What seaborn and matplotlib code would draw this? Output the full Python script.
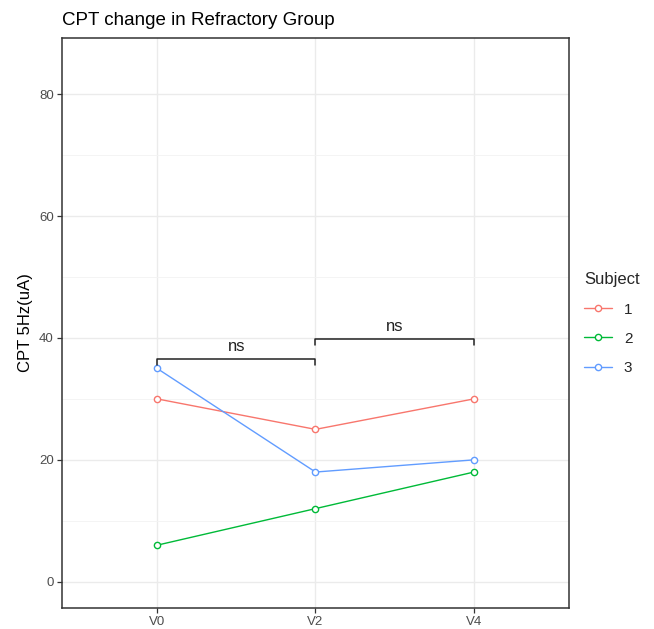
import matplotlib
matplotlib.use("Agg")
import matplotlib.pyplot as plt
from matplotlib.lines import Line2D
import seaborn as sns
import pandas as pd

visits = ["V0", "V2", "V4"]
subjects = ["1", "2", "3"]
subj1 = [30, 25, 30]
subj2 = [6, 12, 18]
subj3 = [35, 18, 20]
colors = ["#F8766D", "#00BA38", "#619CFF"]
brackets = [("V0", "V2", 36.5, "ns"), ("V2", "V4", 39.8, "ns")]

rows = []
for s, vals in zip(subjects, [subj1, subj2, subj3]):
    for v, y in zip(visits, vals):
        rows.append({"visit": v, "cpt": y, "Subject": s})
df = pd.DataFrame(rows)

sns.set_theme(style="white")
plt.rcParams["font.family"] = ["Liberation Sans", "DejaVu Sans"]

fig = plt.figure(figsize=(6.54, 6.29), dpi=100)
ax = fig.add_axes([0.0948, 0.0334, 0.7752, 0.9062])

palette = dict(zip(subjects, colors))
sns.lineplot(data=df, x="visit", y="cpt", hue="Subject", palette=palette,
             marker="o", markersize=4.5, markerfacecolor="white",
             markeredgewidth=1.0, linewidth=1.0, ax=ax, legend=False, zorder=3)
for line in ax.lines:
    line.set_markeredgecolor(line.get_color())

ax.set_xlim(-0.6, 2.6)
ax.set_ylim(-4.3, 89.2)
ax.set_yticks([0, 20, 40, 60, 80])
ax.set_yticks([10, 30, 50, 70], minor=True)
ax.grid(True, which="major", color="#EBEBEB", linewidth=1.0, zorder=0)
ax.grid(True, which="minor", axis="y", color="#F3F3F3", linewidth=0.6, zorder=0)
ax.set_axisbelow(True)
for sp in ax.spines.values():
    sp.set_color("#333333")
    sp.set_linewidth(1.1)
ax.tick_params(axis="both", which="major", length=3.5, width=0.9, color="#333333",
               labelsize=9.5, labelcolor="#4D4D4D", pad=2.5, bottom=True, left=True)
ax.tick_params(axis="y", which="minor", length=0)
ax.set_xlabel("")
ax.set_ylabel("CPT 5Hz(uA)", fontsize=12, color="black", labelpad=4)

pos = {v: i for i, v in enumerate(visits)}
for a, b, y, lab in brackets:
    xa, xb = pos[a], pos[b]
    tick = 0.9
    ax.plot([xa, xa, xb, xb], [y - tick, y, y, y - tick], color="#222222",
            linewidth=1.1, zorder=4)
    ax.text((xa + xb) / 2, y + 0.9, lab, ha="center", va="bottom", fontsize=12,
            color="#222222")

fig.text(0.0948, 0.968, "CPT change in Refractory Group", ha="left", va="center",
         fontsize=13.5, color="black")

handles = [Line2D([0], [0], color=c, marker="o", markersize=4.5,
                  markerfacecolor="white", markeredgecolor=c, linewidth=1.0)
           for c in colors]
leg = fig.legend(handles, subjects, title="Subject", loc="upper left",
                 bbox_to_anchor=(0.872, 0.589), frameon=False, fontsize=11,
                 title_fontsize=12, handlelength=1.8, labelspacing=1.0,
                 alignment="left")

fig.savefig("out.png", dpi=100)
